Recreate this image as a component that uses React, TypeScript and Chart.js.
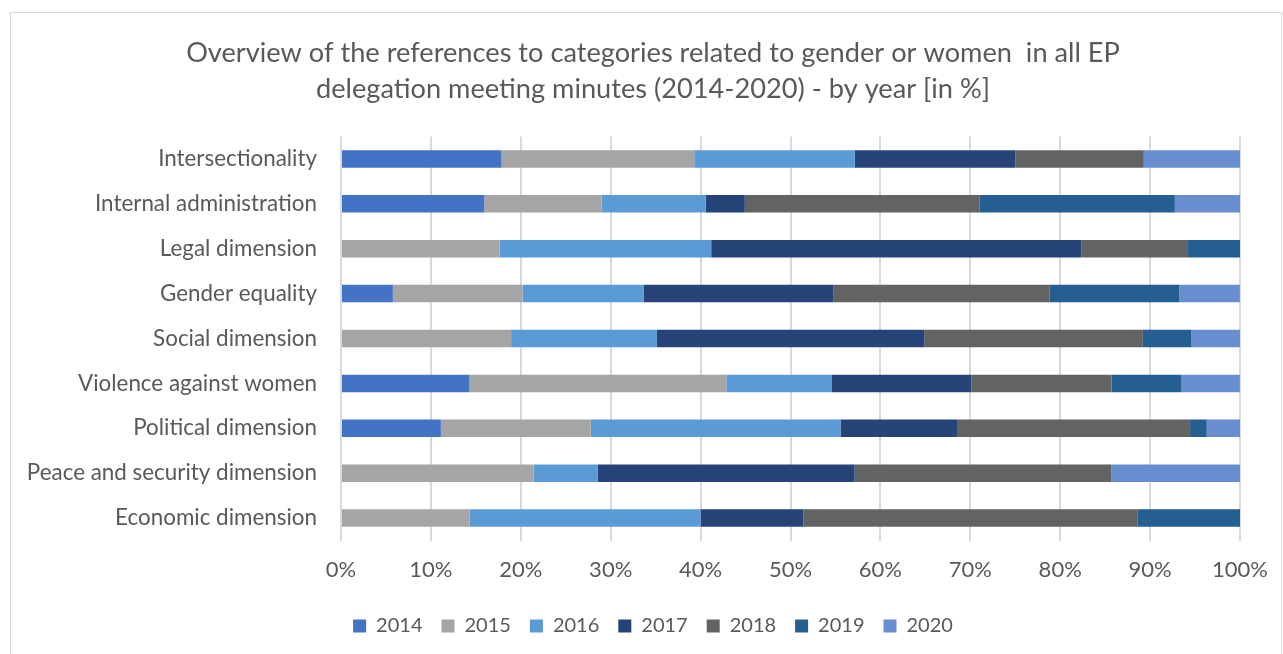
import React, { useEffect, useRef } from 'react';
import { Chart, registerables } from 'chart.js';

Chart.register(...registerables);

const titleLines = [
  'Overview of the references to categories related to gender or women  in all EP',
  'delegation meeting minutes (2014-2020) - by year [in %]',
];

const categories = [
  'Intersectionality',
  'Internal administration',
  'Legal dimension',
  'Gender equality',
  'Social dimension',
  'Violence against women',
  'Political dimension',
  'Peace and security dimension',
  'Economic dimension',
];

const years = ['2014', '2015', '2016', '2017', '2018', '2019', '2020'];
const yearColors = ['#4472C4', '#A5A5A5', '#5B9BD5', '#264478', '#636363', '#255E91', '#698ED0'];

const v2014 = [17.86, 15.94, 0, 5.77, 0, 14.29, 11.11, 0, 0];
const v2015 = [21.43, 13.04, 17.65, 14.42, 18.92, 28.57, 16.67, 21.43, 14.29];
const v2016 = [17.86, 11.59, 23.53, 13.46, 16.22, 11.69, 27.78, 7.14, 25.71];
const v2017 = [17.86, 4.35, 41.18, 21.15, 29.73, 15.58, 12.96, 28.57, 11.43];
const v2018 = [14.29, 26.09, 11.76, 24.04, 24.32, 15.58, 25.93, 28.57, 37.14];
const v2019 = [0, 21.74, 5.88, 14.42, 5.41, 7.79, 1.85, 0, 11.43];
const v2020 = [10.71, 7.25, 0, 6.73, 5.41, 6.49, 3.7, 14.29, 0];

const seriesValues = [v2014, v2015, v2016, v2017, v2018, v2019, v2020];

const axisMin = 0;
const axisMax = 100;
const axisStep = 10;

const TEXT = '#595959';
const GRID = '#d9d9d9';
const FONT = 'Lato';

export default function App() {
  const ref = useRef<HTMLCanvasElement>(null);

  useEffect(() => {
    if (!ref.current) return;
    const chart = new Chart(ref.current, {
      type: 'bar',
      data: {
        labels: categories,
        datasets: years.map((y, i) => ({
          label: y,
          data: seriesValues[i],
          backgroundColor: yearColors[i],
          borderWidth: 0,
          barPercentage: 0.39,
          categoryPercentage: 1,
        })),
      },
      options: {
        indexAxis: 'y',
        responsive: false,
        animation: false,
        devicePixelRatio: 1,
        layout: { padding: { left: 14, right: 0, top: 0, bottom: 17 } },
        scales: {
          x: {
            stacked: true,
            min: axisMin,
            max: axisMax,
            grid: { color: GRID, lineWidth: 2, drawTicks: false },
            border: { display: false },
            ticks: {
              stepSize: axisStep,
              padding: 16.5,
              color: TEXT,
              font: { family: FONT, size: 22 },
              callback: (v: any) => v + '%',
            },
            afterFit: (scale: any) => {
              scale.height = 56.5;
              scale.paddingLeft = 0;
              scale.paddingRight = 0;
            },
          },
          y: {
            stacked: true,
            grid: { display: false, drawTicks: false },
            border: { display: false },
            ticks: {
              padding: 24,
              color: TEXT,
              font: { family: FONT, size: 22.4 },
            },
            afterFit: (scale: any) => {
              scale.width = 316;
            },
          },
          yR: {
            type: 'linear',
            position: 'right',
            display: true,
            grid: { display: false, drawTicks: false },
            border: { display: false },
            ticks: { display: false },
            afterFit: (scale: any) => {
              scale.width = 41;
            },
          },
        },
        plugins: {
          title: {
            display: true,
            text: titleLines,
            color: TEXT,
            font: { family: FONT, size: 27.2, weight: 'normal', lineHeight: 36 / 27.2 },
            padding: { top: 22.5, bottom: 29 },
          },
          legend: {
            display: true,
            position: 'bottom',
            labels: {
              boxWidth: 13,
              boxHeight: 13,
              padding: 19,
              color: TEXT,
              font: { family: FONT, size: 20 },
            },
          },
          tooltip: { enabled: false },
        },
      },
    });
    return () => chart.destroy();
  }, []);

  return (
    <div
      style={{
        position: 'fixed',
        left: 10,
        top: 12,
        width: 1272,
        height: 700,
        border: '1px solid #d9d9d9',
        boxSizing: 'border-box',
        background: '#ffffff',
      }}
    >
      <canvas ref={ref} width={1270} height={650} style={{ display: 'block', width: 1270, height: 650 }} />
    </div>
  );
}
